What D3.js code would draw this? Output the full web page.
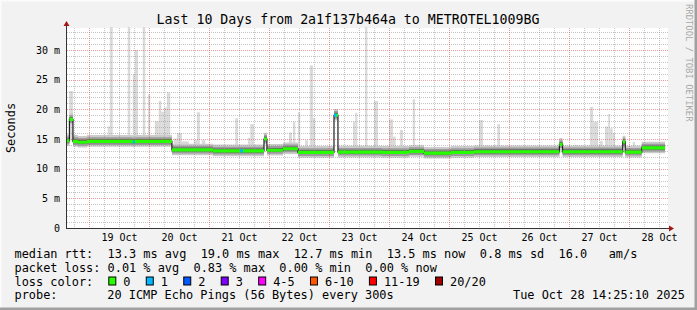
<!DOCTYPE html>
<html>
<head>
<meta charset="utf-8">
<title>SmokePing - Last 10 Days</title>
<style>
  body { margin: 0; background: #fff; }
  svg { display: block; }
  text { font-family: "DejaVu Sans Mono", monospace; fill: #000; }
  .legend { font-size: 11.9px; white-space: pre; }
  .tick text { font-family: "DejaVu Sans Mono", monospace; font-size: 10px; fill: #000; }
</style>
<script src="https://d3js.org/d3.v7.min.js"></script>
</head>
<body>
<svg id="chart" width="697" height="310"></svg>
<script>
const parseT = s => d3.timeParse("%Y-%m-%d %H:%M")("2025-" + s);

// graph window
const windowStart = "10-18 15:12";
const windowEnd = "10-28 15:12";
const dataEnd = "10-28 14:25";

// median rtt (ms), given as change points of the step line
const medianSteps = [
  ["10-18 15:12", 14.7],
  ["10-18 16:10", 18.3],
  ["10-18 17:35", 14.6],
  ["10-18 19:35", 14.45],
  ["10-18 23:10", 14.6],
  ["10-19 17:30", 14.5],
  ["10-19 18:20", 14.6],
  ["10-20 09:10", 13.15],
  ["10-21 01:35", 13.0],
  ["10-21 22:00", 15.0],
  ["10-21 23:10", 13.1],
  ["10-22 05:35", 13.35],
  ["10-22 11:35", 12.75],
  ["10-23 02:00", 19.0],
  ["10-23 03:35", 12.8],
  ["10-23 21:10", 12.75],
  ["10-24 08:00", 12.9],
  ["10-24 14:00", 12.6],
  ["10-25 00:50", 12.75],
  ["10-25 10:00", 12.85],
  ["10-26 20:10", 14.1],
  ["10-26 21:25", 12.85],
  ["10-27 21:30", 14.5],
  ["10-27 22:30", 12.8],
  ["10-28 05:05", 13.5]
];

// spread of the 20 pings around the median (ms below, ms above), outer to inner
const pingSpread = [
  [-0.9, 1.05],
  [-0.6, 0.7],
  [-0.3, 0.4]
];

// slowest ping per interval (ms): from, to, max
const spikes = [
  ["10-18 16:05", "10-18 17:35", 23.1],
  ["10-18 18:00", "10-18 19:35", 15.5],
  ["10-19 07:30", "10-19 08:20", 17.1],
  ["10-19 08:20", "10-19 09:30", 40],
  ["10-19 13:35", "10-19 14:30", 15.5],
  ["10-19 15:30", "10-19 16:30", 40],
  ["10-19 17:30", "10-19 18:20", 25.9],
  ["10-19 18:20", "10-19 19:35", 30.0],
  ["10-19 21:30", "10-19 22:30", 40],
  ["10-19 23:35", "10-20 00:30", 22.5],
  ["10-20 02:20", "10-20 03:55", 18.0],
  ["10-20 03:55", "10-20 04:55", 21.4],
  ["10-20 04:55", "10-20 05:55", 19.6],
  ["10-20 05:55", "10-20 07:10", 20.3],
  ["10-20 07:10", "10-20 08:30", 22.8],
  ["10-20 08:30", "10-20 09:10", 15.5],
  ["10-20 09:55", "10-20 11:10", 15.1],
  ["10-20 11:10", "10-20 13:10", 16.0],
  ["10-20 13:10", "10-20 15:55", 14.6],
  ["10-20 17:55", "10-20 19:10", 14.8],
  ["10-20 19:10", "10-20 20:20", 19.5],
  ["10-20 21:10", "10-20 22:30", 14.8],
  ["10-21 10:30", "10-21 11:35", 18.5],
  ["10-21 15:35", "10-21 16:30", 15.2],
  ["10-21 16:30", "10-21 18:00", 17.5],
  ["10-22 08:00", "10-22 09:10", 16.1],
  ["10-22 09:35", "10-22 10:30", 17.9],
  ["10-22 11:35", "10-22 12:30", 19.5],
  ["10-22 14:30", "10-22 15:35", 14.8],
  ["10-22 16:20", "10-22 17:35", 27.4],
  ["10-22 17:35", "10-22 18:30", 18.5],
  ["10-23 02:00", "10-23 03:35", 19.5],
  ["10-23 09:35", "10-23 10:30", 17.9],
  ["10-23 10:30", "10-23 11:20", 19.4],
  ["10-23 14:25", "10-23 15:20", 40],
  ["10-23 18:00", "10-23 19:35", 21.4],
  ["10-24 00:00", "10-24 01:35", 18.3],
  ["10-24 01:35", "10-24 02:40", 15.4],
  ["10-24 04:25", "10-24 05:35", 16.5],
  ["10-24 09:30", "10-24 10:25", 21.7],
  ["10-25 12:00", "10-25 13:35", 18.2],
  ["10-25 19:20", "10-25 20:25", 17.5],
  ["10-26 20:05", "10-26 21:30", 14.9],
  ["10-27 02:25", "10-27 03:30", 14.0],
  ["10-27 08:25", "10-27 09:40", 20.4],
  ["10-27 09:40", "10-27 11:40", 17.9],
  ["10-27 12:25", "10-27 13:30", 14.65],
  ["10-27 14:25", "10-27 15:40", 17.1],
  ["10-27 15:40", "10-27 16:25", 19.2],
  ["10-27 16:25", "10-27 17:30", 16.8],
  ["10-27 17:30", "10-27 18:25", 16.0],
  ["10-27 21:30", "10-27 22:30", 15.5],
  ["10-28 01:30", "10-28 02:25", 14.5]
];

// intervals with packet loss: from, to, lost pings
const lossRuns = [
  ["10-19 17:30", "10-19 18:20", 1],
  ["10-21 12:25", "10-21 13:35", 1],
  ["10-23 02:00", "10-23 03:00", 1]
];

const lossLabels = ["0", "1", "2", "3", "4-5", "6-10", "11-19", "20/20"];
const lossColors = ["#26ff00", "#00b8ff", "#0059ff", "#7e00ff", "#ff00ff", "#ff5500", "#ff0000", "#a10000"];
const lossBins = [0, 1, 2, 3, 5, 10, 19, 20];

const yTicks = [0, 5, 10, 15, 20, 25, 30];
const yMax = 33.7;

const legendRows = [
  "median rtt:  13.3 ms avg  19.0 ms max  12.7 ms min  13.5 ms now  0.8 ms sd  16.0   am/s",
  "packet loss: 0.01 % avg  0.83 % max  0.00 % min  0.00 % now"
];
const probeText = "20 ICMP Echo Pings (56 Bytes) every 300s";
const stampText = "Tue Oct 28 14:25:10 2025";
const titleText = "Last 10 Days from 2a1f137b464a to METROTEL1009BG";

// ---------------------------------------------------------------
const W = 697, H = 310;
const plot = { left: 67, right: 667, top: 28, bottom: 228 };

const svg = d3.select("#chart");

svg.append("rect").attr("width", W).attr("height", H).attr("fill", "#f2f2f2");
svg.append("path").attr("d", `M0,${H} V0 H${W}`).attr("fill", "none")
  .attr("stroke", "#fbfbfb").attr("stroke-width", 3);
svg.append("path").attr("d", `M0,${H - 1} H${W - 1} V0`).attr("fill", "none")
  .attr("stroke", "#a0a0a0").attr("stroke-width", 3);

const x = d3.scaleTime()
  .domain([parseT(windowStart), parseT(windowEnd)])
  .range([plot.left, plot.right]);
const y = d3.scaleLinear().domain([0, yMax]).range([plot.bottom, plot.top]);

svg.append("rect")
  .attr("x", plot.left).attr("y", plot.top)
  .attr("width", plot.right - plot.left + 1).attr("height", plot.bottom - plot.top)
  .attr("fill", "#fff");

svg.append("clipPath").attr("id", "clip").append("rect")
  .attr("x", plot.left).attr("y", plot.top - 1)
  .attr("width", plot.right - plot.left + 1).attr("height", plot.bottom - plot.top + 1);

const g = svg.append("g").attr("clip-path", "url(#clip)");

// step series
const steps = medianSteps.map(d => ({ t: parseT(d[0]), v: d[1] }));
steps.push({ t: parseT(dataEnd), v: steps[steps.length - 1].v });
const medianAt = t => {
  let v = steps[0].v;
  for (const s of steps) { if (s.t <= t) v = s.v; }
  return v;
};

// spikes (lightest smoke)
g.selectAll("rect.spike").data(spikes).join("rect")
  .attr("class", "spike")
  .attr("x", d => x(parseT(d[0])))
  .attr("width", d => x(parseT(d[1])) - x(parseT(d[0])))
  .attr("y", d => y(d[2]))
  .attr("height", d => y(medianAt(parseT(d[0]))) - y(d[2]))
  .attr("fill", "#dadada");

// smoke around the median
const smokeColors = ["#cbcbcb", "#9c9c9c", "#666666"];
pingSpread.forEach((s, i) => {
  g.append("path").datum(steps)
    .attr("fill", smokeColors[i])
    .attr("d", d3.area().curve(d3.curveStepAfter)
      .x(d => x(d.t)).y0(d => y(d.v + s[0])).y1(d => y(d.v + s[1])));
});

// grid
const gridG = svg.append("g").attr("shape-rendering", "crispEdges");
const hours6 = d3.timeHour.every(6).range(x.domain()[0], x.domain()[1]);
const days = d3.timeDay.range(x.domain()[0], x.domain()[1]);
gridG.selectAll("line.vmin").data(hours6.filter(d => d.getHours() !== 0)).join("line")
  .attr("x1", d => Math.round(x(d)) + 0.5).attr("x2", d => Math.round(x(d)) + 0.5)
  .attr("y1", plot.top).attr("y2", plot.bottom)
  .attr("stroke", "rgba(150,150,150,0.55)").attr("stroke-dasharray", "1,1");
gridG.selectAll("line.hmin").data(d3.range(1, Math.floor(yMax) + 1).filter(v => v % 5)).join("line")
  .attr("y1", d => Math.round(y(d)) + 0.5).attr("y2", d => Math.round(y(d)) + 0.5)
  .attr("x1", plot.left).attr("x2", plot.right + 1)
  .attr("stroke", "rgba(150,150,150,0.55)").attr("stroke-dasharray", "1,1");
gridG.selectAll("line.vmaj").data(days).join("line")
  .attr("x1", d => Math.round(x(d)) + 0.5).attr("x2", d => Math.round(x(d)) + 0.5)
  .attr("y1", plot.top).attr("y2", plot.bottom)
  .attr("stroke", "rgba(220,60,60,0.5)").attr("stroke-dasharray", "1,1");
gridG.selectAll("line.hmaj").data(yTicks.filter(v => v > 0)).join("line")
  .attr("y1", d => Math.round(y(d)) + 0.5).attr("y2", d => Math.round(y(d)) + 0.5)
  .attr("x1", plot.left).attr("x2", plot.right + 1)
  .attr("stroke", "rgba(220,60,60,0.5)").attr("stroke-dasharray", "1,1");

// median line and loss colored band
const lg = svg.append("g").attr("clip-path", "url(#clip)");
lg.append("path").datum(steps)
  .attr("fill", "none").attr("stroke", "#202020").attr("stroke-width", 1.2)
  .attr("d", d3.line().curve(d3.curveStepAfter).x(d => x(d.t)).y(d => y(d.v)));
lg.append("path").datum(steps)
  .attr("fill", lossColors[0])
  .attr("d", d3.area().curve(d3.curveStepAfter)
    .x(d => x(d.t)).y0(d => y(d.v) + 1.6).y1(d => y(d.v) - 1.6));
const lossColor = n => lossColors[lossBins.findIndex(b => n <= b)];
lg.selectAll("rect.loss").data(lossRuns).join("rect")
  .attr("x", d => x(parseT(d[0])))
  .attr("width", d => x(parseT(d[1])) - x(parseT(d[0])))
  .attr("y", d => y(medianAt(parseT(d[0]))) - 1.6)
  .attr("height", 3.2)
  .attr("fill", d => lossColor(d[2]));

// axes
const noon = days.map(d => d3.timeHour.offset(d, 12)).filter(d => d < x.domain()[1]);
const xAxis = svg.append("g").attr("transform", `translate(0,${plot.bottom})`)
  .call(d3.axisBottom(x).tickValues(noon).tickSize(0).tickPadding(6)
    .tickFormat(d3.timeFormat("%d %b")));
xAxis.select(".domain").remove();

const yAxis = svg.append("g").attr("transform", `translate(${plot.left},0)`)
  .call(d3.axisLeft(y).tickValues(yTicks).tickSize(0).tickPadding(7)
    .tickFormat(d => d === 0 ? "0" : d + " m"));
yAxis.select(".domain").remove();

svg.append("line").attr("x1", plot.left - 0.5).attr("x2", plot.left - 0.5)
  .attr("y1", plot.bottom + 0.5).attr("y2", plot.top - 4)
  .attr("stroke", "#333").attr("stroke-width", 1);
svg.append("line").attr("x1", plot.left - 1).attr("x2", plot.right + 3)
  .attr("y1", plot.bottom + 0.5).attr("y2", plot.bottom + 0.5)
  .attr("stroke", "#333").attr("stroke-width", 1);
svg.append("path")
  .attr("d", `M${plot.left - 3.5},${plot.top - 2} L${plot.left + 2.5},${plot.top - 2} L${plot.left - 0.5},${plot.top - 7} Z`)
  .attr("fill", "#a01818");
svg.append("path")
  .attr("d", `M${plot.right + 2},${plot.bottom - 2.5} L${plot.right + 2},${plot.bottom + 3.5} L${plot.right + 7},${plot.bottom + 0.5} Z`)
  .attr("fill", "#a01818");

// title, y label, watermark
svg.append("text").attr("x", 348).attr("y", 24).attr("text-anchor", "middle")
  .style("font-size", "13.25px").text(titleText);
svg.append("text").attr("transform", "translate(14.6,128) rotate(-90)")
  .attr("text-anchor", "middle").style("font-size", "11.9px").text("Seconds");
svg.append("text").attr("transform", "translate(685.5,4) rotate(90)")
  .style("font-size", "8.9px").style("fill", "#a8a8a8")
  .text("RRDTOOL / TOBI OETIKER");

// legend
const lx = 14.5;
const rowY = [257.8, 271.6, 285.5, 299.3];
legendRows.forEach((r, i) => {
  svg.append("text").attr("class", "legend").attr("x", lx).attr("y", rowY[i]).text(r);
});
svg.append("text").attr("class", "legend").attr("x", lx).attr("y", rowY[2]).text("loss color:");
let bx = 108.3;
lossLabels.forEach((lab, i) => {
  svg.append("rect").attr("x", bx + 0.5).attr("y", rowY[2] - 8.5)
    .attr("width", 7).attr("height", 8)
    .attr("fill", lossColors[i]).attr("stroke", "#000").attr("stroke-width", 1);
  const t = svg.append("text").attr("class", "legend").attr("x", bx + 15).attr("y", rowY[2]).text(lab);
  bx = bx + 15 + t.node().getComputedTextLength() + 15.3;
});
svg.append("text").attr("class", "legend").attr("x", lx).attr("y", rowY[3]).text("probe:");
svg.append("text").attr("class", "legend").attr("x", 107.3).attr("y", rowY[3]).text(probeText);
svg.append("text").attr("class", "legend").attr("x", 513).attr("y", rowY[3]).text(stampText);
</script>
</body>
</html>
